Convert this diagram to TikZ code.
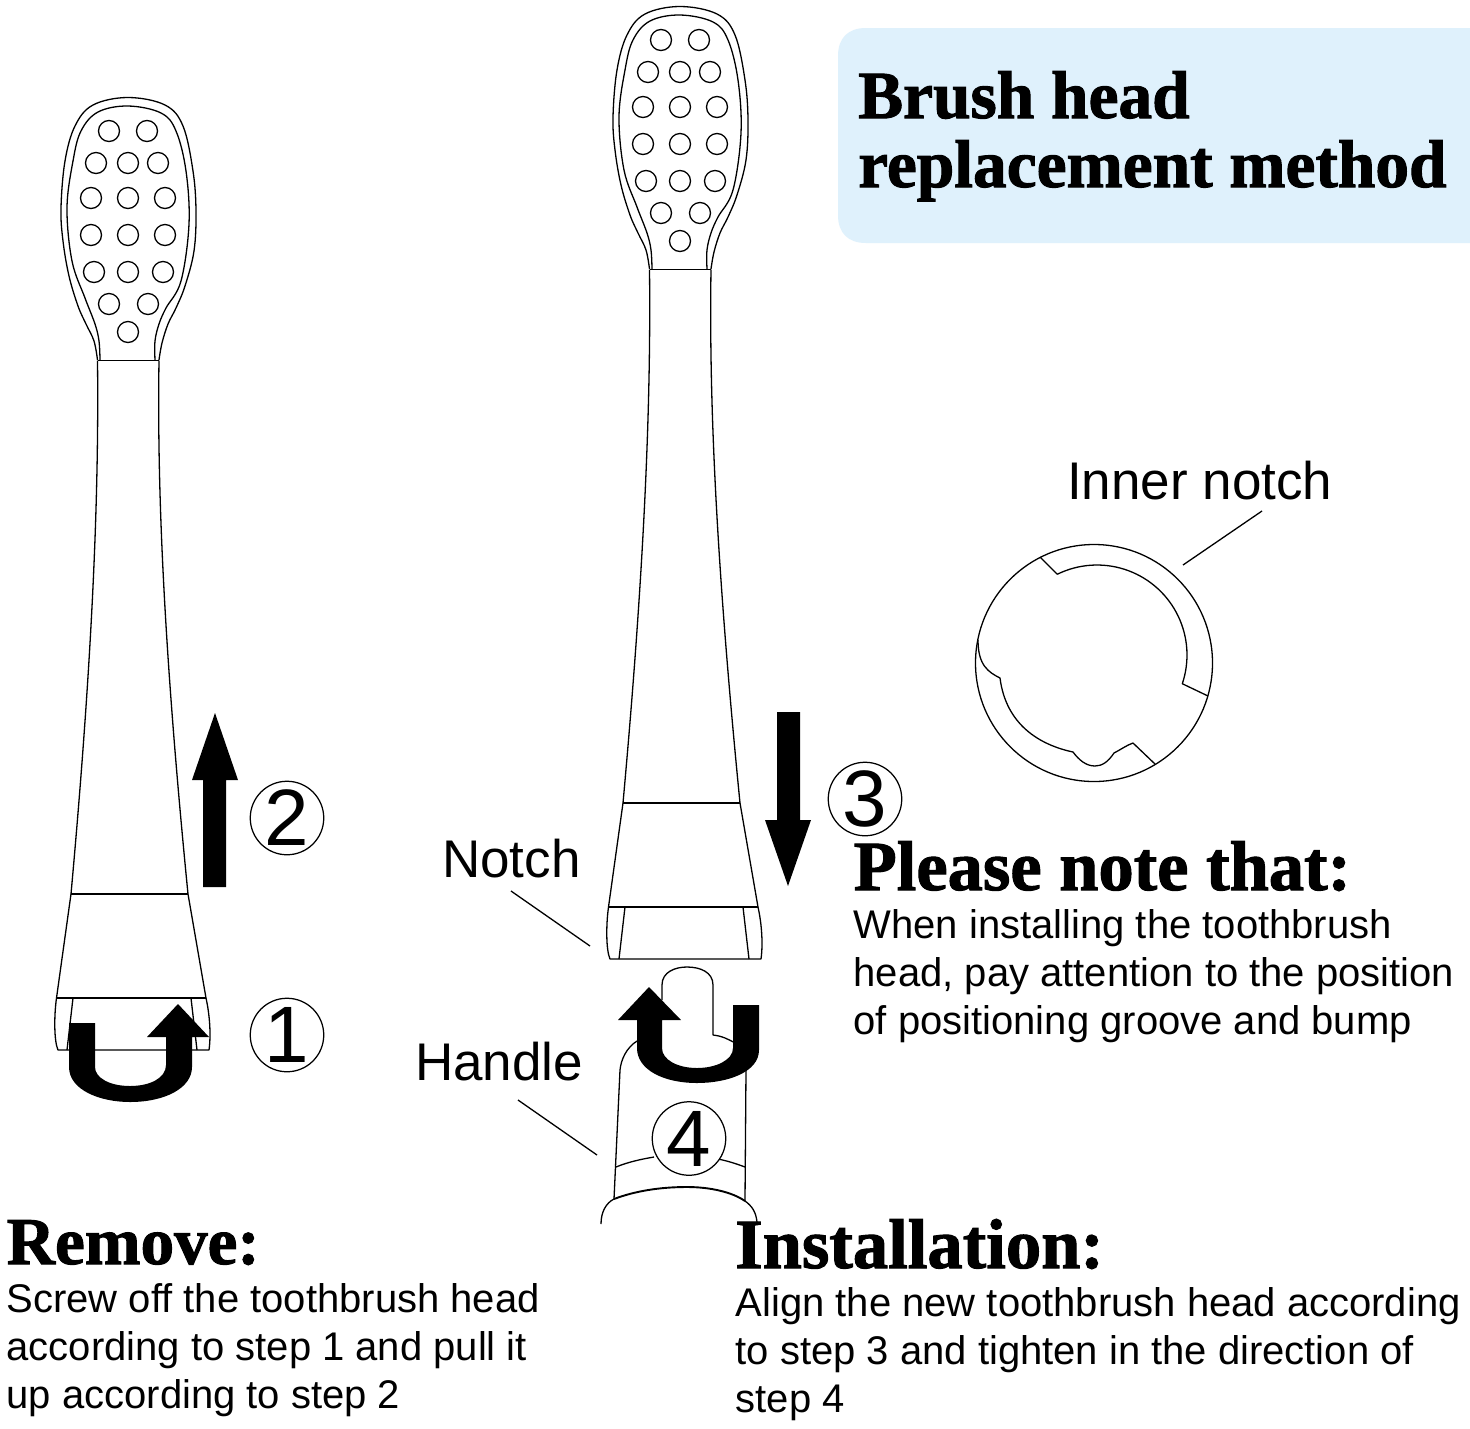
\documentclass[tikz,border=0pt]{standalone}
\usepackage{fontspec}
\setmainfont{Liberation Sans}
\newfontfamily\hdfont[BoldFeatures={FakeBold=1.5}]{Liberation Serif}
\definecolor{boxblue}{HTML}{DFF1FC}
\tikzset{
  ln/.style={draw=black,line width=1.3pt,line join=round},
  solidblk/.style={fill=black,draw=none},
  bristle/.style={ln,fill=white},
  body/.style={anchor=base west,inner sep=0pt,font=\fontsize{40}{48}\selectfont},
  lab/.style={anchor=base west,inner sep=0pt,font=\fontsize{53}{60}\selectfont},
  head/.style={anchor=base west,inner sep=0pt,font=\hdfont\bfseries\fontsize{#1}{#1}\selectfont},
  numc/.style={circle,draw=black,line width=1.25pt,fill=white,minimum size=73.5pt,inner sep=0pt,font=\fontsize{80}{80}\selectfont}
}
\newcommand{\brushshape}{%
  \draw[ln] plot[smooth,tension=0.6] coordinates {(649.5,269)(646,250)(638,233)(630,215)(621,185)(615,150)(613,117)(617,70)(627,35)(645,14)(680,6.5)(717,14)(735,35)(745,80)(748,120)(746,160)(737,195)(728,217)(720,233)(714,252)(711,269)};
  \draw[ln] plot[smooth,tension=0.6] coordinates {(652,269)(651,250)(647,233)(637,207)(624,170)(619,117)(625,70)(633,40)(650,21)(680,15)(713,22)(728,40)(738,80)(741,133)(733,190)(718,217)(711,233)(707,250)(707,269)};
  \foreach \px/\py in {661/40,699/40,648/72,680/72,710/72,643/107,680/107,717/107,643/144,680/144,717/144,646/181,680/181,715/181,661/213,700/213,680/241}
    \draw[bristle] (\px,\py) circle (10.5);
  \draw[ln] (649.5,269.5) -- (711,269.5);
  \draw[ln] (649.5,269.5) .. controls (651,400) and (645,560) .. (623,803) -- (608.5,907) .. controls (606,925) and (606,950) .. (610,959) -- (761,959) .. controls (763,945) and (762,925) .. (758,907) -- (740,803) .. controls (716,560) and (709,400) .. (711,269.5);
  \draw[ln] (623,803) -- (740,803);
  \draw[ln] (608.5,907) -- (758,907);
  \draw[ln] (625,907) -- (619,959);
  \draw[ln] (743,907) -- (749,959);
}
\begin{document}
\begin{tikzpicture}[x=1pt,y=-1pt]
\useasboundingbox (0,0) rectangle (1470,1428);
\fill[white] (0,0) rectangle (1470,1428);
% title panel
\fill[boxblue] (1470,28) -- (866,28) .. controls (848,28) and (838,38) .. (838,56) -- (838,215) .. controls (838,233) and (848,243) .. (866,243) -- (1470,243) -- cycle;
\node[head=67.4] (title1) at (858,118) {Brush head};
\node[head=67.4] (title2) at (858,187) {replacement method};
% brushes
\brushshape
\begin{scope}[shift={(-552,91)}]
\brushshape
\end{scope}
% handle
\draw[ln] (662,1000) -- (662,985) .. controls (662,972) and (675,967) .. (687,967) .. controls (700,967) and (713,972) .. (713,985) -- (713,1035) .. controls (722,1036) and (728,1039) .. (735,1043);
\draw[ln] (637,1041) .. controls (626,1048) and (621,1060) .. (620,1070) -- (614,1199);
\draw[ln] (746,1070) -- (745,1201);
\draw[ln] (616,1167) .. controls (628,1162) and (642,1159) .. (654,1157);
\draw[ln] (718,1159) .. controls (728,1161) and (737,1164) .. (745,1167);
\draw[line width=1.9pt] (614,1199) .. controls (635,1191) and (660,1187) .. (687,1187) .. controls (710,1187) and (732,1192) .. (745,1201);
\draw[ln] (601,1224) .. controls (601,1212) and (606,1203) .. (614,1199);
\draw[ln] (745,1201) .. controls (752,1206) and (756,1212) .. (757,1222);
% turning arrows
\path[solidblk] (69,1023) -- (69,1067) .. controls (69,1090) and (100,1102) .. (130,1102) .. controls (165,1102) and (192,1088) .. (192,1067) -- (192,1037) -- (209,1037) -- (178,1004) -- (147,1037) -- (166,1037) -- (166,1065) .. controls (166,1078) and (150,1086) .. (130,1086) .. controls (110,1086) and (95,1078) .. (95,1067) -- (95,1023) -- cycle;
\path[solidblk] (759,1005) -- (759,1050) .. controls (759,1072) and (728,1083) .. (697,1083) .. controls (664,1083) and (637,1070) .. (637,1048) -- (637,1020) -- (618,1020) -- (649,987) -- (681,1020) -- (662,1020) -- (662,1048) .. controls (662,1060) and (678,1068) .. (697,1068) .. controls (716,1068) and (733,1060) .. (733,1048) -- (733,1005) -- cycle;
% straight arrows
\path[solidblk] (203,887) -- (203,780) -- (192,780) -- (215,713) -- (238,780) -- (226,780) -- (226,887) -- cycle;
\path[solidblk] (777,712) -- (777,820) -- (765,820) -- (788,886) -- (811,820) -- (800,820) -- (800,712) -- cycle;
% step numbers
\node[numc] (n1) at (287,1035) {1};
\node[numc] (n2) at (287,818) {2};
\node[numc] (n3) at (865,799) {3};
\node[numc] (n4) at (689,1138.5) {4};
% ring
\draw[ln] (1094,663) circle (118.5);
\draw[ln] (1040,557) -- (1057,574) -- plot[domain=-116:18.6,samples=50] ({1097+90*cos(\x)},{655+90*sin(\x)}) -- (1208,696);
\draw[ln] (1155,764) -- (1133,743) .. controls (1127,745) and (1120,750) .. (1114,753) .. controls (1108,762) and (1102,766) .. (1095,766) .. controls (1086,766) and (1079,760) .. (1073,752) .. controls (1040,745) and (1006,725) .. (1000,678) .. controls (988,672) and (978,665) .. (978,640);
% leaders and labels
\node[lab] (inner) at (1067,499.5) {Inner notch};
\coordinate (innerA) at (1262,511);
\coordinate (innerB) at (1183,565);
\draw[ln] (innerA) -- (innerB);
\node[lab] (notch) at (442,877) {Notch};
\coordinate (notchA) at (511,891);
\coordinate (notchB) at (590,946);
\draw[ln] (notchA) -- (notchB);
\node[lab] (handle) at (415,1080) {Handle};
\coordinate (handleA) at (518,1100);
\coordinate (handleB) at (597,1155);
\draw[ln] (handleA) -- (handleB);
% text blocks
\node[head=70.5] (pn) at (853.5,890) {Please note that:};
\node[body] (pn1) at (853.5,938) {When installing the toothbrush};
\node[body] (pn2) at (853.5,986) {head, pay attention to the position};
\node[body] (pn3) at (853.5,1034) {of positioning groove and bump};
\node[head=67] (rm) at (6.5,1264) {Remove:};
\node[body] (rm1) at (6.5,1312) {Screw off the toothbrush head};
\node[body] (rm2) at (6.5,1360) {according to step 1 and pull it};
\node[body] (rm3) at (6.5,1408) {up according to step 2};
\node[head=70.6] (inst) at (735,1268) {Installation:};
\node[body] (in1) at (735.5,1316) {Align the new toothbrush head according};
\node[body] (in2) at (735.5,1364) {to step 3 and tighten in the direction of};
\node[body] (in3) at (735.5,1412) {step 4};
\end{tikzpicture}
\end{document}
